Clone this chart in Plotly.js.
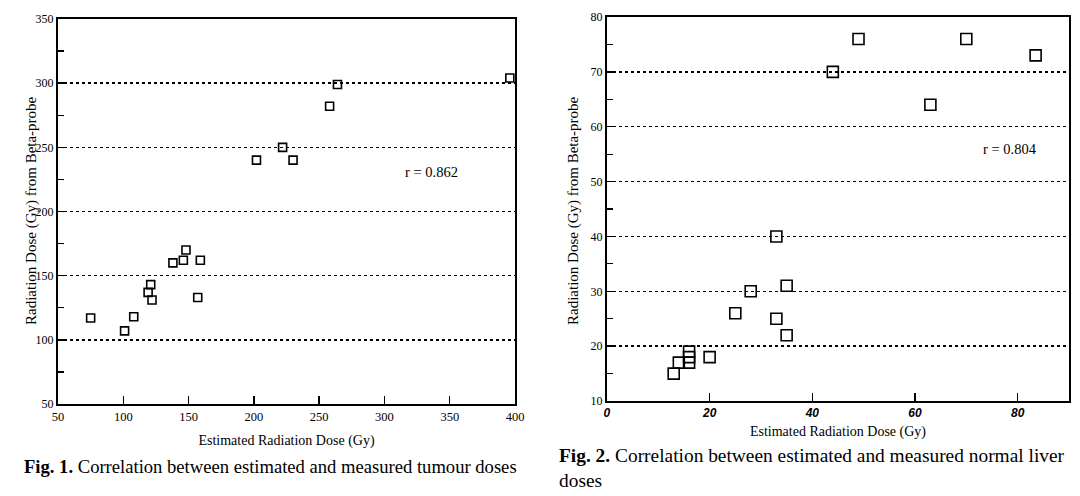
<!DOCTYPE html>
<html>
<head>
<meta charset="utf-8">
<script src="https://cdn.plot.ly/plotly-3.0.1.min.js"></script>
<style>
  html, body { margin: 0; padding: 0; background: #fff; }
  #chart { width: 1080px; height: 496px; }
</style>
</head>
<body>
<div id="chart"></div>
<script>
// Fig. 1 - tumour doses
var tumourEstimated = [75, 101, 108, 119, 121, 122, 138, 146, 148, 157, 159, 202, 222, 230, 258, 264, 396];
var tumourMeasured  = [117, 107, 118, 137, 143, 131, 160, 162, 170, 133, 162, 240, 250, 240, 282, 299, 304];

// Fig. 2 - normal liver doses
var liverEstimated = [13, 14, 16, 16, 16, 20, 25, 28, 33, 33, 35, 35, 44, 49, 63, 70, 83.5];
var liverMeasured  = [15, 17, 17, 18, 19, 18, 26, 30, 40, 25, 31, 22, 70, 76, 64, 76, 73];

var tumourR = 'r = 0.862';
var liverR = 'r = 0.804';
var xTitle = 'Estimated Radiation Dose (Gy)';
var yTitle = 'Radiation Dose (Gy) from Beta-probe';

var serif = 'Liberation Serif, Times New Roman, serif';

var data = [
  {
    x: tumourEstimated, y: tumourMeasured,
    type: 'scatter', mode: 'markers',
    xaxis: 'x', yaxis: 'y',
    marker: {symbol: 'square-open', size: 8, color: '#000', line: {width: 1.6, color: '#000'}},
    hoverinfo: 'x+y'
  },
  {
    x: liverEstimated, y: liverMeasured,
    type: 'scatter', mode: 'markers',
    xaxis: 'x2', yaxis: 'y2',
    marker: {symbol: 'square-open', size: 11, color: '#000', line: {width: 1.6, color: '#000'}},
    hoverinfo: 'x+y'
  }
];

var frame = {
  showline: true, mirror: true, linecolor: '#000', linewidth: 2,
  ticks: 'inside', ticklen: 8, tickwidth: 1.4, tickcolor: '#000',
  zeroline: false, fixedrange: true
};

var layout = {
  width: 1080, height: 496,
  margin: {l: 0, r: 0, t: 0, b: 0},
  paper_bgcolor: '#fff', plot_bgcolor: '#fff',
  showlegend: false,
  font: {family: serif, color: '#000', size: 13},
  xaxis: Object.assign({}, frame, {
    domain: [0.0537, 0.4769], range: [50, 400], dtick: 50, tick0: 50,
    showgrid: false, anchor: 'y',
    tickfont: {family: serif, size: 12.5, color: '#000'},
    title: {text: xTitle, font: {family: serif, size: 14}, standoff: 12}
  }),
  yaxis: Object.assign({}, frame, {
    domain: [0.1855, 0.9617], range: [50, 350], dtick: 50, tick0: 50,
    showgrid: true, gridcolor: '#000', gridwidth: 1.4, griddash: 'dot',
    minor: {ticks: 'inside', dtick: 25, ticklen: 6, tickwidth: 1.2, tickcolor: '#000', showgrid: false},
    anchor: 'x',
    tickfont: {family: serif, size: 12, color: '#000'}
  }),
  xaxis2: Object.assign({}, frame, {
    domain: [0.5620, 0.9898], range: [0, 90], dtick: 20, tick0: 0,
    showgrid: false, anchor: 'y2',
    tickfont: {family: 'Liberation Sans, Arial, sans-serif', size: 12, color: '#000', style: 'italic', weight: 'bold'},
    title: {text: xTitle, font: {family: serif, size: 14}, standoff: 7}
  }),
  yaxis2: Object.assign({}, frame, {
    domain: [0.1915, 0.9657], range: [10, 80], dtick: 10, tick0: 10,
    showgrid: true, gridcolor: '#000', gridwidth: 1.4, griddash: 'dot',
    minor: {ticks: 'inside', dtick: 5, ticklen: 6, tickwidth: 1.2, tickcolor: '#000', showgrid: false},
    anchor: 'x2',
    tickfont: {family: serif, size: 12, color: '#000'}
  }),
  annotations: [
    // y axis titles, placed by hand so they sit close to the tick labels as in the print
    {text: yTitle, xref: 'paper', yref: 'paper', x: 31 / 1080, y: 1 - 211 / 496, textangle: -90,
     xanchor: 'center', yanchor: 'middle',
     showarrow: false, font: {family: serif, size: 15, color: '#000'}},
    {text: yTitle, xref: 'paper', yref: 'paper', x: 573 / 1080, y: 1 - 211 / 496, textangle: -90,
     xanchor: 'center', yanchor: 'middle',
     showarrow: false, font: {family: serif, size: 15, color: '#000'}},
    {text: tumourR, xref: 'x', yref: 'y', x: 336, y: 231, showarrow: false,
     font: {family: serif, size: 14.5, color: '#000'}},
    {text: liverR, xref: 'x2', yref: 'y2', x: 78.5, y: 56, showarrow: false,
     font: {family: serif, size: 14.5, color: '#000'}},
    {text: '<b>Fig. 1.</b> Correlation between estimated and measured tumour doses',
     xref: 'paper', yref: 'paper', x: 22 / 1080, y: 1 - 466 / 496, xanchor: 'left', yanchor: 'middle',
     showarrow: false, font: {family: serif, size: 18.6, color: '#000'}},
    {text: '<b>Fig. 2.</b> Correlation between estimated and measured normal liver<br>doses',
     xref: 'paper', yref: 'paper', x: 557 / 1080, y: 1 - 468 / 496, xanchor: 'left', yanchor: 'middle',
     align: 'left', showarrow: false, font: {family: serif, size: 19.4, color: '#000'}}
  ]
};

Plotly.newPlot('chart', data, layout, {displayModeBar: false, staticPlot: true});
</script>
</body>
</html>
